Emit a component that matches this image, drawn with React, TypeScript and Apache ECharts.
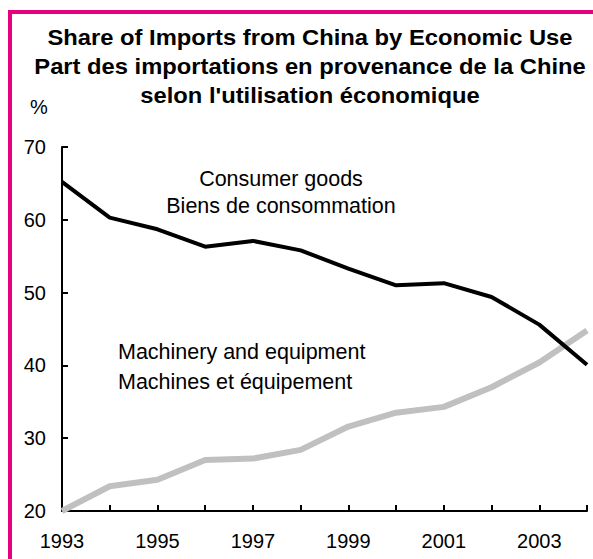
import React, { useEffect, useRef } from "react";
import * as echarts from "echarts";

const years = ["1993", "1994", "1995", "1996", "1997", "1998", "1999", "2000", "2001", "2002", "2003", "2004"];
const consumerGoods = [65.2, 60.3, 58.7, 56.3, 57.1, 55.8, 53.3, 51.0, 51.3, 49.4, 45.6, 40.1];
const machinery = [20.0, 23.4, 24.3, 27.0, 27.2, 28.4, 31.6, 33.5, 34.3, 37.0, 40.4, 44.8];
const titleLines = [
  "Share of Imports from China by Economic Use",
  "Part des importations en provenance de la Chine",
  "selon l'utilisation économique",
];
const consumerLabel = ["Consumer goods", "Biens de consommation"];
const machineryLabel = ["Machinery and equipment", "Machines et équipement"];
const unitLabel = "%";

const FONT = "'Liberation Sans', Arial, sans-serif";

export default function App() {
  const ref = useRef<HTMLDivElement>(null);
  useEffect(() => {
    document.body.style.margin = "0";
    if (!ref.current) return;
    const chart = echarts.init(ref.current, null, { renderer: "svg" });
    const titleYs = [37, 66, 95];
    const graphics: any[] = [
      {
        type: "rect",
        shape: { x: 10, y: 12, width: 700, height: 700 },
        style: { fill: "none", stroke: "#E6007E", lineWidth: 4 },
        silent: true,
      },
      ...titleLines.map((t, i) => ({
        type: "text",
        x: 310,
        y: titleYs[i],
        scaleX: 1.08,
        style: {
          text: t,
          font: `bold 22px ${FONT}`,
          fill: "#000",
          align: "center",
          verticalAlign: "middle",
        },
      })),
      {
        type: "text",
        x: 30,
        y: 107,
        style: { text: unitLabel, font: `20px ${FONT}`, fill: "#000", align: "left", verticalAlign: "middle" },
      },
      ...consumerLabel.map((t, i) => ({
        type: "text",
        x: 281,
        y: [178.5, 205.5][i],
        style: { text: t, font: `21.5px ${FONT}`, fill: "#000", align: "center", verticalAlign: "middle" },
      })),
      ...machineryLabel.map((t, i) => ({
        type: "text",
        x: 118,
        y: [351.5, 381.5][i],
        style: { text: t, font: `21.5px ${FONT}`, fill: "#000", align: "left", verticalAlign: "middle" },
      })),
    ];
    chart.setOption({
      animation: false,
      backgroundColor: "#fff",
      grid: { left: 62, top: 147, right: 6, bottom: 48, containLabel: false },
      xAxis: {
        type: "category",
        data: years,
        boundaryGap: false,
        axisLine: { lineStyle: { color: "#000", width: 2 } },
        axisTick: { inside: true, length: 6, interval: 0, lineStyle: { color: "#000", width: 2 } },
        axisLabel: { interval: 1, color: "#000", fontSize: 20, fontFamily: FONT, margin: 20 },
        splitLine: { show: false },
      },
      yAxis: {
        type: "value",
        min: 20,
        max: 70,
        interval: 10,
        axisLine: { show: true, lineStyle: { color: "#000", width: 2 } },
        axisTick: { show: true, inside: true, length: 6, lineStyle: { color: "#000", width: 2 } },
        axisLabel: { color: "#000", fontSize: 20, fontFamily: FONT, margin: 16 },
        splitLine: { show: false },
      },
      series: [
        {
          name: "Machinery and equipment",
          type: "line",
          data: machinery,
          symbol: "none",
          lineStyle: { color: "#C0C0C0", width: 6 },
          z: 2,
        },
        {
          name: "Consumer goods",
          type: "line",
          data: consumerGoods,
          symbol: "none",
          lineStyle: { color: "#000", width: 4 },
          z: 3,
        },
      ],
      graphic: graphics,
    });
    return () => chart.dispose();
  }, []);
  return <div ref={ref} style={{ width: 593, height: 559 }} />;
}
